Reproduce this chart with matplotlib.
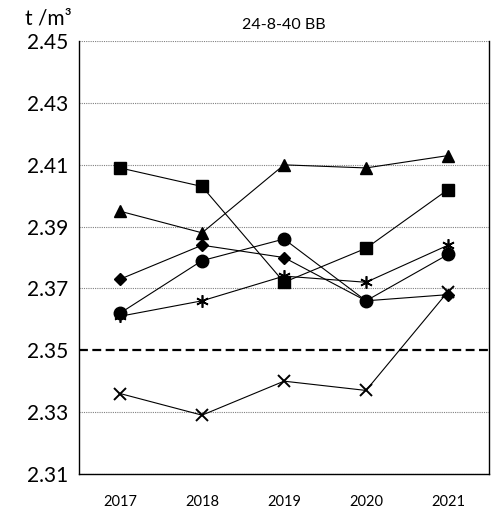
import matplotlib.pyplot as plt
import numpy as np

plt.rcParams['font.family'] = ['Lato', 'DejaVu Sans']

years = ['2017', '2018', '2019', '2020', '2021']

triangle = [2.395, 2.388, 2.410, 2.409, 2.413]
square = [2.409, 2.403, 2.372, 2.383, 2.402]
diamond = [2.373, 2.384, 2.380, 2.366, 2.368]
circle = [2.362, 2.379, 2.386, 2.366, 2.381]
star = [2.361, 2.366, 2.374, 2.372, 2.384]
cross = [2.336, 2.329, 2.340, 2.337, 2.369]

limit = 2.35
yticks = [2.31, 2.33, 2.35, 2.37, 2.39, 2.41, 2.43, 2.45]

fig = plt.figure(figsize=(4.97, 5.09), dpi=100)
ax = fig.add_axes([0.159, 0.069, 0.825, 0.85])

x = np.arange(len(years))

# gridlines (dotted grey), skip the limit line
for v in yticks:
    if v != limit:
        ax.axhline(v, color='#808080', lw=0.8, ls=(0, (1, 1)), zorder=1)
ax.axhline(limit, color='black', lw=1.6, ls=(0, (4, 2)), zorder=2)

kw = dict(color='black', lw=0.8, zorder=3)
ax.plot(x, triangle, marker='^', ms=9, **kw)
ax.plot(x, square, marker='s', ms=8.5, **kw)
ax.plot(x, diamond, marker='D', ms=6.5, **kw)
ax.plot(x, circle, marker='o', ms=9, **kw)
ax.plot(x, star, marker=(6, 2, 0), ms=9, mew=1.2, **kw)
ax.plot(x, cross, marker='x', ms=9, mew=1.4, **kw)

ax.set_xlim(-0.5, len(years) - 0.5)
ax.set_ylim(2.31, 2.45)
ax.set_xticks(x)
ax.set_xticklabels(years, fontsize=10.5)
ax.set_yticks(yticks)
ax.set_yticklabels(['%.2f' % v for v in yticks], fontsize=15)
ax.tick_params(length=0, pad=15)
ax.tick_params(axis='y', pad=8)

ax.spines['top'].set_visible(False)
for s in ['left', 'bottom', 'right']:
    ax.spines[s].set_linewidth(1.0)

ax.set_title('24-8-40 BB', fontsize=11.5, pad=9)
fig.text(0.05, 0.952, 't /m\u00b3', fontsize=15)

plt.savefig('out.png', dpi=100)
